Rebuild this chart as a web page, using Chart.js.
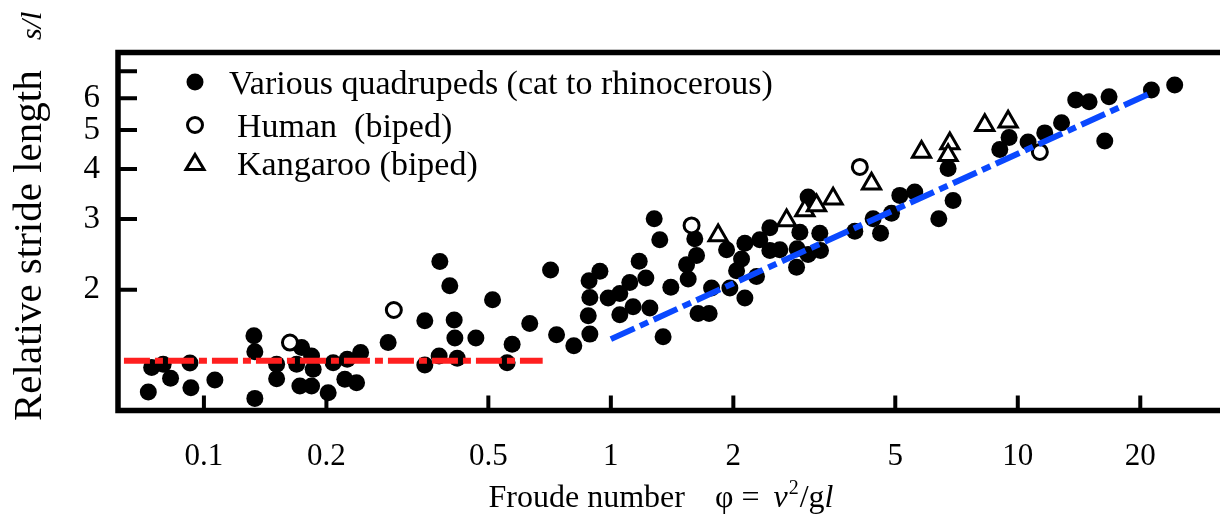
<!DOCTYPE html>
<html>
<head>
<meta charset="utf-8">
<script src="https://cdn.jsdelivr.net/npm/chart.js@4.4.1/dist/chart.umd.min.js"></script>
<style>
  html, body { margin: 0; padding: 0; background: #fff; }
  #wrap { width: 1220px; height: 518px; }
</style>
</head>
<body>
<div id="wrap"><canvas id="myChart" width="1220" height="518"></canvas></div>
<script>
// Froude number (x) vs relative stride length (y)
const quadX = [
  0.0730, 0.0744, 0.0794, 0.0828, 0.0924, 0.0929, 0.1064, 0.1327, 0.1334, 0.1334,
  0.1509, 0.1509, 0.169, 0.1738, 0.1839, 0.1856, 0.1721, 0.1839, 0.202, 0.2078,
  0.222, 0.225, 0.2372, 0.2427, 0.2836, 0.349, 0.349, 0.3785, 0.4121, 0.4137,
  0.4193, 0.4659, 0.512, 0.556, 0.572, 0.632, 0.7355, 0.380, 0.402, 0.711,
  0.811, 0.888, 0.880, 0.888, 0.884, 0.940, 0.985, 1.052, 1.052, 1.113,
  1.134, 1.174, 1.219, 1.247, 1.278, 1.319, 1.344, 1.404, 1.608, 1.624,
  1.535, 1.549, 1.638, 1.744, 1.768, 1.925, 1.961, 2.037, 2.095, 2.135,
  2.135, 2.280, 2.323, 2.459, 2.459, 2.602, 2.869, 2.860, 2.914, 3.053,
  3.053, 3.262, 3.275, 3.977, 4.411, 4.600, 4.894, 5.130, 5.583, 6.396,
  6.934, 6.741, 9.032, 9.52, 10.6, 11.65, 12.81, 13.88, 14.97, 16.76,
  16.36, 21.3, 24.3
]
const quadY = [
  1.112, 1.279, 1.304, 1.203, 1.314, 1.140, 1.191, 1.535, 1.400, 1.072,
  1.304, 1.200, 1.304, 1.435, 1.368, 1.267, 1.151, 1.151, 1.107, 1.316,
  1.196, 1.342, 1.173, 1.394, 1.477, 1.673, 1.299, 1.368, 1.680, 1.515,
  1.350, 1.515, 1.888, 1.316, 1.463, 1.647, 1.544, 2.350, 2.046, 2.240,
  1.449, 1.550, 1.722, 1.913, 2.106, 2.222, 1.907, 1.958, 1.732, 2.085,
  1.814, 2.355, 2.140, 1.800, 3.006, 2.662, 1.526, 2.027, 2.678, 2.432,
  2.309, 2.127, 1.745, 1.745, 2.020, 2.514, 2.020, 2.231, 2.386, 1.907,
  2.611, 2.156, 2.662, 2.504, 2.853, 2.514, 2.529, 2.274, 2.782, 2.446,
  3.402, 2.766, 2.504, 2.798, 3.006, 2.766, 3.103, 3.436, 3.502, 3.006,
  3.338, 4.008, 4.471, 4.790, 4.670, 4.918, 5.210, 5.938, 5.880, 6.050,
  4.697, 6.290, 6.471
]
const humanX = [0.1627, 0.2929, 1.579, 4.091, 11.33]
const humanY = [1.477, 1.780, 2.891, 4.044, 4.408]
const rooX = [1.835, 2.703, 2.997, 3.202, 3.517, 4.371, 5.800, 6.807, 6.741, 8.296, 9.467]
const rooY = [2.729, 2.976, 3.151, 3.244, 3.372, 3.675, 4.408, 4.627, 4.326, 5.140, 5.239]

// fitted lines: walking (flat) and running (power law)
const walkX = [0.0636, 0.68]
const walkY = [1.33, 1.33]
const runX = [1.0, 21.3]
const runY = [1.506, 6.19]

const xTicks = [0.1, 0.2, 0.5, 1, 2, 5, 10, 20]
const xTickLabels = ['0.1', '0.2', '0.5', '1', '2', '5', '10', '20']
const yTicks = [2, 3, 4, 5, 6, 7]
const yTickLabels = ['2', '3', '4', '5', '6', '']
const seriesNames = ['Various quadrupeds (cat to rhinocerous)', 'Human  (biped)', 'Kangaroo (biped)']

const serif = "'Liberation Serif', 'Times New Roman', serif"
const pts = (xs, ys) => xs.map((x, i) => ({ x: x, y: ys[i] }))

const frameAndTicks = {
	id: 'frameAndTicks',
	afterDatasetsDraw(chart) {
		const { ctx, chartArea: a, scales } = chart
		ctx.save()
		ctx.strokeStyle = '#000'
		ctx.lineCap = 'butt'
		ctx.lineWidth = 4
		ctx.beginPath()
		xTicks.forEach(v => {
			const px = scales.x.getPixelForValue(v)
			ctx.moveTo(px, a.bottom)
			ctx.lineTo(px, a.bottom - 15)
		})
		yTicks.forEach(v => {
			const py = scales.y.getPixelForValue(v)
			ctx.moveTo(a.left, py)
			ctx.lineTo(a.left + 19, py)
		})
		ctx.stroke()

		ctx.lineWidth = 5.5
		ctx.lineJoin = 'miter'
		ctx.beginPath()
		ctx.moveTo(a.right, a.top)
		ctx.lineTo(a.left, a.top)
		ctx.lineTo(a.left, a.bottom)
		ctx.lineTo(a.right, a.bottom)
		ctx.stroke()
		ctx.restore()
	}
}

const legendAndTitles = {
	id: 'legendAndTitles',
	afterDraw(chart) {
		const ctx = chart.ctx
		ctx.save()
		ctx.fillStyle = '#000'
		ctx.strokeStyle = '#000'

		// legend markers
		ctx.beginPath()
		ctx.arc(195, 82, 8.5, 0, Math.PI * 2)
		ctx.fill()

		ctx.lineWidth = 3
		ctx.beginPath()
		ctx.arc(195, 125, 7.5, 0, Math.PI * 2)
		ctx.fillStyle = '#fff'
		ctx.fill()
		ctx.stroke()

		ctx.beginPath()
		ctx.moveTo(195, 154.5)
		ctx.lineTo(204, 169.5)
		ctx.lineTo(186, 169.5)
		ctx.closePath()
		ctx.fill()
		ctx.stroke()

		// legend text
		ctx.fillStyle = '#000'
		ctx.font = `34px ${serif}`
		ctx.textBaseline = 'alphabetic'
		ctx.textAlign = 'left'
		ctx.fillText(seriesNames[0], 229, 93.5)
		ctx.fillText(seriesNames[1], 237, 137)
		ctx.fillText(seriesNames[2], 237, 174.5)

		// y title, rotated
		ctx.save()
		ctx.translate(41, 421)
		ctx.rotate(-Math.PI / 2)
		ctx.font = `41px ${serif}`
		ctx.fillText('Relative stride length', 0, 0)
		ctx.restore()
		ctx.save()
		ctx.translate(41, 40)
		ctx.rotate(-Math.PI / 2)
		ctx.font = `italic 30px ${serif}`
		ctx.fillText('s/l', 0, 0)
		ctx.restore()

		// x title built from pieces
		const base = 507
		const parts = [
			{ t: 'Froude number', f: `32px ${serif}`, dy: 0, gap: 30 },
			{ t: 'φ =', f: `32px ${serif}`, dy: 0, gap: 14 },
			{ t: 'v', f: `italic 32px ${serif}`, dy: 0, gap: 1 },
			{ t: '2', f: `20px ${serif}`, dy: -13, gap: 1 },
			{ t: '/g', f: `32px ${serif}`, dy: 0, gap: 0 },
			{ t: 'l', f: `italic 32px ${serif}`, dy: 0, gap: 0 }
		]
		let total = 0
		parts.forEach(p => { ctx.font = p.f; p.w = ctx.measureText(p.t).width; total += p.w + p.gap })
		let cx = 661 - total / 2
		parts.forEach(p => {
			ctx.font = p.f
			ctx.fillText(p.t, cx, base + p.dy)
			cx += p.w + p.gap
		})
		ctx.restore()
	}
}

const ctx = document.getElementById('myChart').getContext('2d')

const myChart = new Chart(ctx, {
	type: 'scatter',
	data: {
		datasets: [
			{
				label: 'running',
				data: pts(runX, runY),
				showLine: true,
				borderColor: '#0a48ff',
				borderWidth: 6,
				borderDash: [26, 6, 9, 6],
				pointRadius: 0,
				order: 0
			},
			{
				label: 'walking',
				data: pts(walkX, walkY),
				showLine: true,
				borderColor: '#ff1f1f',
				borderWidth: 6,
				borderDash: [26, 5, 8, 5],
				pointRadius: 0,
				order: 0
			},
			{
				label: seriesNames[1],
				data: pts(humanX, humanY),
				pointStyle: 'circle',
				pointRadius: 7.5,
				borderWidth: 3,
				borderColor: '#000',
				backgroundColor: '#fff',
				order: 1
			},
			{
				label: seriesNames[2],
				data: pts(rooX, rooY),
				pointStyle: 'triangle',
				pointRadius: 10.5,
				borderWidth: 3,
				borderColor: '#000',
				backgroundColor: '#fff',
				order: 1
			},
			{
				label: seriesNames[0],
				data: pts(quadX, quadY),
				pointStyle: 'circle',
				pointRadius: 8.5,
				borderWidth: 0,
				backgroundColor: '#000',
				order: 2
			}
		]
	},
	options: {
		responsive: false,
		devicePixelRatio: 1,
		animation: false,
		layout: { autoPadding: false, padding: { top: 52.5, right: 0, bottom: 0, left: 0 } },
		plugins: {
			legend: { display: false },
			tooltip: { enabled: false }
		},
		scales: {
			x: {
				type: 'logarithmic',
				bounds: 'data',
				min: 0.0615,
				max: 31.4,
				grid: { display: false, drawTicks: false },
				border: { display: false },
				afterBuildTicks: s => { s.ticks = xTicks.map(v => ({ value: v })) },
				afterFit: s => { s.height = 107.5 },
				ticks: {
					autoSkip: false,
					maxRotation: 0,
					padding: 28,
					color: '#000',
					font: { family: serif, size: 31 },
					callback: (v, i) => xTickLabels[i]
				}
			},
			y: {
				type: 'logarithmic',
				bounds: 'data',
				min: 1,
				max: 7.8,
				grid: { display: false, drawTicks: false },
				border: { display: false },
				afterBuildTicks: s => { s.ticks = yTicks.map(v => ({ value: v })) },
				afterFit: s => { s.width = 118 },
				ticks: {
					autoSkip: false,
					padding: 18,
					color: '#000',
					font: { family: serif, size: 33 },
					callback: (v, i) => yTickLabels[i]
				}
			}
		}
	},
	plugins: [frameAndTicks, legendAndTitles]
})
</script>
</body>
</html>
